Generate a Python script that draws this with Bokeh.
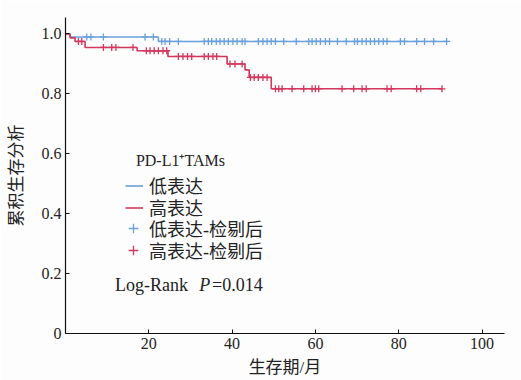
import numpy as np
from bokeh.plotting import figure
from bokeh.models import Legend, LegendItem, Label, FixedTicker, Range1d
from bokeh.embed import file_html
from bokeh.resources import INLINE

# ---------------- data ----------------
low_times = [0, 1.1, 22.3, 91.5]
low_surv = [1.0, 0.99, 0.975, 0.975]

high_times = [0, 1.1, 2.3, 4.7, 17.2, 24.6, 38.8, 43.1, 44.1, 49.4, 90.4]
high_surv = [1.0, 0.987, 0.975, 0.955, 0.944, 0.925, 0.900, 0.880, 0.855, 0.817, 0.817]

low_censored = [5.1, 6.1, 9.1, 19.1, 21.1, 23.1, 23.9, 25.0, 27.1,
                33.3, 34.3, 35.1, 36.2, 37.1, 38.1, 39.1, 40.2, 41.2, 42.4, 43.1,
                46.3, 47.4, 48.4, 49.4, 50.4, 52.4, 55.4, 58.4, 59.2, 60.2, 61.2,
                62.4, 63.4, 65.3, 67.4, 69.4, 70.1, 71.2, 72.2, 73.2, 74.2, 75.2,
                76.3, 77.2, 80.4, 81.4, 84.3, 86.2, 88.4, 91.5]
high_censored = [3.1, 3.9, 9.1, 11.1, 12.1, 16.2,
                 19.4, 20.3, 21.3, 22.3, 23.4, 24.3,
                 27.1, 28.2, 29.3, 30.3, 33.3, 34.3, 35.4, 36.3,
                 39.5, 40.7, 42.4,
                 44.4, 45.3, 46.3, 47.4, 48.4,
                 50.4, 51.2, 52.0, 54.4, 57.2, 59.2, 60.0, 60.8, 66.4, 69.2,
                 71.2, 72.2, 77.2, 78.2, 84.3, 85.3, 90.4]

x_ticks = [20, 40, 60, 80, 100]
y_ticks = [0, 0.2, 0.4, 0.6, 0.8, 1.0]
y_tick_labels = ["0", "0.2", "0.4", "0.6", "0.8", "1.0"]
series_names = ["低表达", "高表达", "低表达-检剔后", "高表达-检剔后"]
legend_title = "PD-L1\u207aTAMs"
x_title = "生存期/月"
y_title = "累积生存分析"
stat_prefix = "Log-Rank "
stat_symbol = "P"
stat_value = "=0.014"

BLUE = "#6aa0da"
RED = "#d3375d"
TEXT = "#222222"
SERIF = "Liberation Serif"
MIXED = "Liberation Serif, Noto Sans CJK SC"


def surv_at(times, surv, ts):
    t = np.asarray(times)
    s = np.asarray(surv)
    idx = np.searchsorted(t, np.asarray(ts), side="right") - 1
    return s[idx]


p = figure(width=521, height=380,
           x_range=Range1d(0, 105.4), y_range=Range1d(0, 1.055),
           output_backend="svg", toolbar_location=None,
           min_border_left=65, min_border_right=17,
           min_border_top=17, min_border_bottom=47,
           background_fill_color="#fdfdfd", border_fill_color="#fdfdfd",
           outline_line_color=None)
p.grid.visible = False

r_low = p.step(low_times, low_surv, mode="after", line_color=BLUE, line_width=1.6)
r_high = p.step(high_times, high_surv, mode="after", line_color=RED, line_width=1.6)
r_lc = p.scatter(low_censored, surv_at(low_times, low_surv, low_censored),
                 marker="cross", size=7, line_color=BLUE, line_width=1.3)
r_hc = p.scatter(high_censored, surv_at(high_times, high_surv, high_censored),
                 marker="cross", size=7, line_color=RED, line_width=1.3)

# axes
for ax in (p.xaxis[0], p.yaxis[0]):
    ax.axis_line_color = "#111111"
    ax.axis_line_width = 1.2
    ax.major_tick_line_color = "#111111"
    ax.major_tick_in = 4
    ax.major_tick_out = 0
    ax.minor_tick_line_color = None
    ax.major_label_text_font = SERIF
    ax.major_label_text_font_size = "16px"
    ax.major_label_text_color = TEXT
    ax.axis_label_text_font = MIXED
    ax.axis_label_text_font_size = "17px"
    ax.axis_label_text_font_style = "normal"
    ax.axis_label_text_color = TEXT

p.xaxis.ticker = FixedTicker(ticks=x_ticks)
p.xaxis.major_label_standoff = 4
p.xaxis.axis_label = x_title
p.xaxis.axis_label_standoff = 6

p.yaxis.ticker = FixedTicker(ticks=y_ticks)
p.yaxis.major_label_overrides = {t: l for t, l in zip(y_ticks, y_tick_labels)}
p.yaxis.major_label_standoff = 4
p.yaxis.axis_label = y_title
p.yaxis.axis_label_standoff = 13

# one legend box per entry so that the row pitch matches the reference
# (name, renderer, x offset, y offset, icon box size, label standoff)
legend_rows = [(series_names[0], r_low, 60, 135, 18, 6),
               (series_names[1], r_high, 60, 113, 18, 6),
               (series_names[2], r_lc, 56, 92, 24, 4),
               (series_names[3], r_hc, 56, 70, 24, 4)]
for name, rend, xpos, ypos, box, standoff in legend_rows:
    lg = Legend(items=[LegendItem(label=name, renderers=[rend])],
                location=(xpos, ypos), padding=0, margin=0, spacing=0,
                glyph_width=box, glyph_height=max(box, 21),
                label_standoff=standoff, label_height=21,
                label_text_font=MIXED, label_text_font_size="18px",
                label_text_color=TEXT,
                background_fill_alpha=0, border_line_color=None)
    p.add_layout(lg)

p.add_layout(Label(x=16.9, y=0.578, text=legend_title, text_font=SERIF,
                   text_font_size="16px", text_color=TEXT, text_baseline="middle"))
p.add_layout(Label(x=11.9, y=0.161, text=stat_prefix, text_font=SERIF,
                   text_font_size="18px", text_color=TEXT, text_baseline="middle"))
p.add_layout(Label(x=32.1, y=0.161, text=stat_symbol, text_font=SERIF,
                   text_font_style="italic",
                   text_font_size="18px", text_color=TEXT, text_baseline="middle"))
p.add_layout(Label(x=35.2, y=0.161, text=stat_value, text_font=SERIF,
                   text_font_size="18px", text_color=TEXT, text_baseline="middle"))

open("out.html", "w").write(file_html(p, INLINE))
